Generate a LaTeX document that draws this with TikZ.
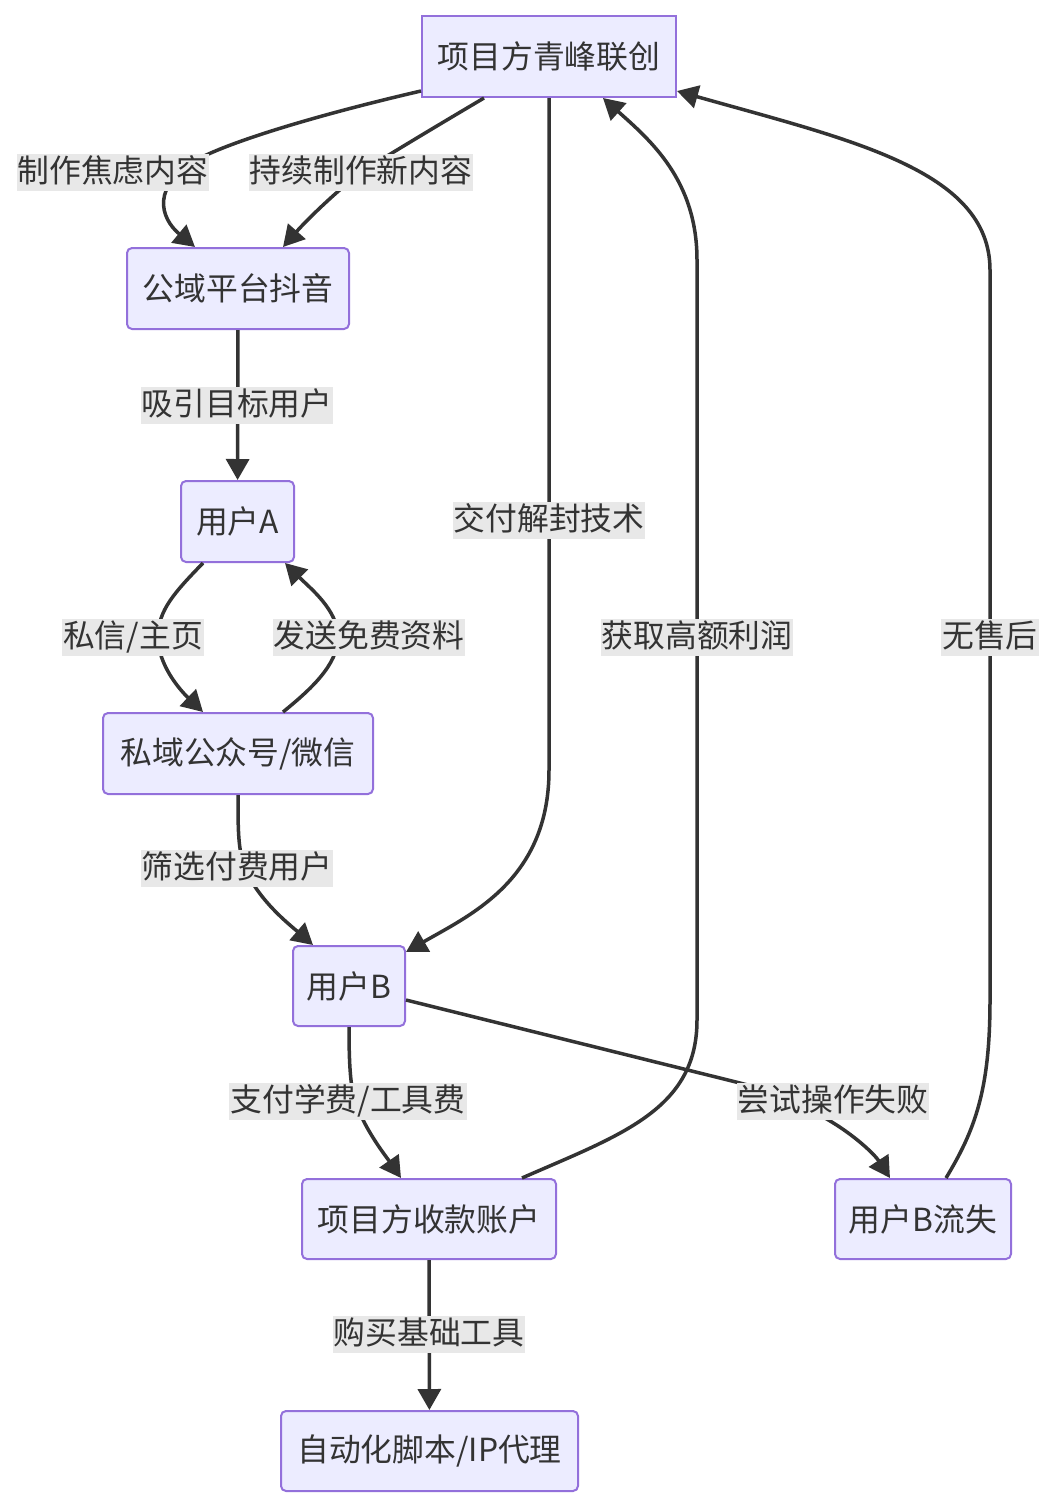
\documentclass[tikz,border=0pt]{standalone}
\usepackage{fontspec}
\setmainfont{Noto Sans CJK SC}
\usetikzlibrary{arrows.meta}
\definecolor{flowInk}{HTML}{333333}
\definecolor{flowFill}{HTML}{ECECFF}
\definecolor{flowStroke}{HTML}{9370DB}
\definecolor{flowTag}{HTML}{E8E8E8}
\tikzset{
  every picture/.style={font=\fontsize{31.8}{38}\selectfont, text=flowInk},
  flow box/.style={draw=flowStroke, line width=2pt, rounded corners=5pt,
    fill=flowFill, minimum height=81pt, inner sep=0pt},
  flow head/.style={flow box, rounded corners=0pt},
  flow arrow/.style={-{Triangle[length=21pt,width=23pt]},
    draw=flowInk, line width=3.5pt},
  flow tag/.style={fill=flowTag, inner xsep=1pt, inner ysep=2pt,
    text height=27pt, text depth=6pt}
}

\begin{document}
\begin{tikzpicture}[x=1pt,y=-1pt]
  \useasboundingbox[fill=white] (0,0) rectangle (1056,1510);

  % boxes
  \node[flow head, minimum width=254pt] (owner) at (549,56.5) {项目方青峰联创};
  \node[flow box, minimum width=222pt] (douyin) at (238,288.5) {公域平台抖音};
  \node[flow box, minimum width=113pt] (userA) at (237.5,521.5) {用户A};
  \node[flow box, minimum width=270pt] (wechat) at (238,753.5) {私域公众号/微信};
  \node[flow box, minimum width=112pt, minimum height=80pt] (userB) at (349,986) {用户B};
  \node[flow box, minimum width=254pt, minimum height=80pt] (account) at (429,1219) {项目方收款账户};
  \node[flow box, minimum width=176pt, minimum height=80pt] (lostB) at (923,1219) {用户B流失};
  \node[flow box, minimum width=297pt, minimum height=80pt] (tools) at (429.5,1451) {自动化脚本/IP代理};

  % connectors
  \draw[flow arrow] ([yshift=7pt]owner.south west) .. controls (330,112) and (240,138) .. (200,158)
    .. controls (150,185) and (160,218) .. ([xshift=-43pt]douyin.north);
  \draw[flow arrow] ([xshift=-65pt]owner.south) .. controls (440,124) and (400,148) .. (361,172)
    .. controls (330,197) and (305,222) .. ([xshift=45pt]douyin.north);
  \draw[flow arrow] (douyin) -- (userA);
  \draw[flow arrow] ([xshift=-34.5pt]userA.south) .. controls (175,592) and (158,610) .. (158,637)
    .. controls (158,665) and (180,690) .. ([xshift=-35pt]wechat.north);
  \draw[flow arrow] ([xshift=45pt]wechat.north) .. controls (310,690) and (338,665) .. (338,637)
    .. controls (338,610) and (310,588) .. ([xshift=47.5pt]userA.south);
  \draw[flow arrow] (wechat.south) .. controls (238,830) and (238,850) .. (245,868)
    .. controls (258,900) and (290,925) .. ([xshift=-36pt]userB.north);
  \draw[flow arrow] (owner.south) -- (549,770)
    .. controls (549,880) and (470,915) .. ([yshift=-7pt]userB.north east);
  \draw[flow arrow] (userB.south) .. controls (349,1060) and (350,1085) .. (355,1101)
    .. controls (365,1130) and (385,1155) .. ([xshift=-28pt]account.north);
  \draw[flow arrow] ([yshift=-14pt]userB.east) -- (740,1083)
    .. controls (790,1096) and (805,1105) .. (825,1118)
    .. controls (855,1135) and (875,1155) .. ([xshift=-33pt]lostB.north);
  \draw[flow arrow] ([xshift=93pt]account.north) .. controls (620,1135) and (697,1110) .. (697,1020)
    -- (697,260) .. controls (697,180) and (650,140) .. ([xshift=54pt]owner.south);
  \draw[flow arrow] ([xshift=23pt]lostB.north) .. controls (975,1130) and (990,1090) .. (990,1000)
    -- (990,270) .. controls (990,170) and (850,140) .. ([yshift=7pt]owner.south east);
  \draw[flow arrow] (account) -- (tools);

  % edge labels
  \node[flow tag] (tagAnx) at (113,172) {制作焦虑内容};
  \node[flow tag] (tagNew) at (361,172) {持续制作新内容};
  \node[flow tag] (tagDraw) at (237,405) {吸引目标用户};
  \node[flow tag] (tagDM) at (133,637) {私信/主页};
  \node[flow tag] (tagFree) at (369,637) {发送免费资料};
  \node[flow tag] (tagPay) at (237,868) {筛选付费用户};
  \node[flow tag] (tagTech) at (549,520) {交付解封技术};
  \node[flow tag] (tagFee) at (348,1101) {支付学费/工具费};
  \node[flow tag] (tagFail) at (833,1101) {尝试操作失败};
  \node[flow tag] (tagProfit) at (697,637) {获取高额利润};
  \node[flow tag] (tagNone) at (990,637) {无售后};
  \node[flow tag] (tagBuy) at (429,1334) {购买基础工具};
\end{tikzpicture}
\end{document}
